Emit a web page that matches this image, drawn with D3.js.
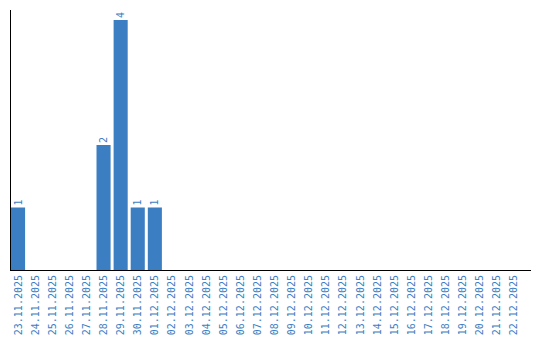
<!DOCTYPE html>
<html><head><meta charset="utf-8">
<script src="https://cdn.jsdelivr.net/npm/d3@7"></script>
<style>body{margin:0;background:#fff}svg{display:block}</style>
</head><body>
<script>
const categories = ["23.11.2025","24.11.2025","25.11.2025","26.11.2025","27.11.2025","28.11.2025","29.11.2025","30.11.2025","01.12.2025","02.12.2025","03.12.2025","04.12.2025","05.12.2025","06.12.2025","07.12.2025","08.12.2025","09.12.2025","10.12.2025","11.12.2025","12.12.2025","13.12.2025","14.12.2025","15.12.2025","16.12.2025","17.12.2025","18.12.2025","19.12.2025","20.12.2025","21.12.2025","22.12.2025"];
const values = [1,0,0,0,0,2,4,1,1,0,0,0,0,0,0,0,0,0,0,0,0,0,0,0,0,0,0,0,0,0];

const W=540,H=340;
const color="#3b7ec2";
const svg=d3.select("body").append("svg").attr("width",W).attr("height",H);
const x=d3.scaleBand().domain(categories).range([11,521]).paddingInner(3/17).paddingOuter(0).align(0);
const y=d3.scaleLinear().domain([0,4]).range([270,20]);

svg.selectAll("rect.bar").data(values.map((v,i)=>({v,c:categories[i]})).filter(d=>d.v>0))
  .enter().append("rect").attr("class","bar")
  .attr("x",d=>x(d.c)).attr("y",d=>y(d.v))
  .attr("width",x.bandwidth()).attr("height",d=>y(0)-y(d.v)).attr("fill",color);

svg.selectAll("text.val").data(values.map((v,i)=>({v,c:categories[i]})).filter(d=>d.v>0))
  .enter().append("text").attr("class","val")
  .attr("transform",d=>`translate(${x(d.c)+x.bandwidth()/2+3.5},${y(d.v)-2}) rotate(-90)`)
  .attr("font-family","DejaVu Sans Mono").attr("font-size",10).attr("fill",color)
  .text(d=>d.v);

svg.selectAll("text.cat").data(categories).enter().append("text").attr("class","cat")
  .attr("transform",d=>`translate(${x(d)+x.bandwidth()/2+3.5},275) rotate(-90)`)
  .attr("text-anchor","end")
  .attr("font-family","DejaVu Sans Mono").attr("font-size",10).attr("fill",color)
  .text(d=>d);

svg.append("line").attr("x1",10.5).attr("x2",10.5).attr("y1",10).attr("y2",270.5).attr("stroke","#000");
svg.append("line").attr("x1",10).attr("x2",531).attr("y1",270.5).attr("y2",270.5).attr("stroke","#000");
</script>
</body></html>
